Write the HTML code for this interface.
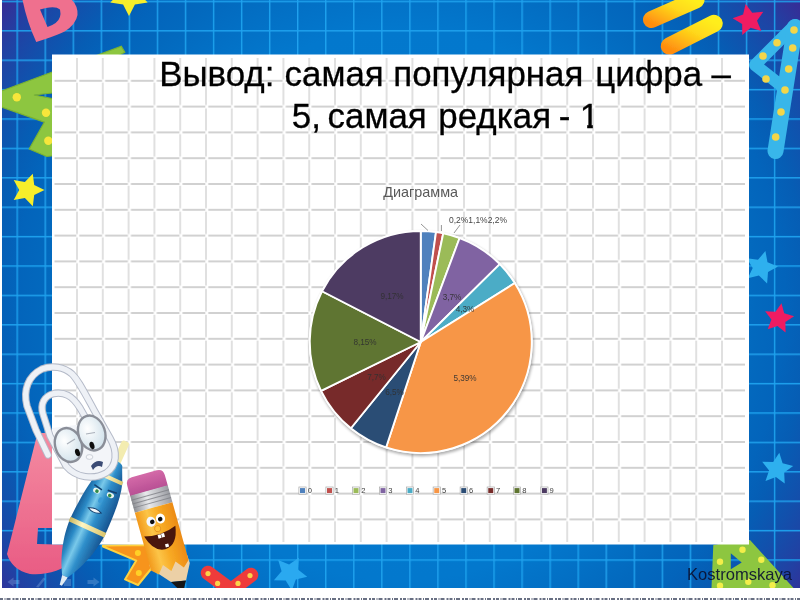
<!DOCTYPE html>
<html lang="ru"><head><meta charset="utf-8"><title>Вывод</title>
<style>
html,body{margin:0;padding:0;background:#fff;}
body{width:800px;height:600px;overflow:hidden;font-family:"Liberation Sans",sans-serif;}
svg{display:block;}
text{font-family:"Liberation Sans",sans-serif;}
</style></head><body>
<svg width="800" height="600" viewBox="0 0 800 600">
<defs>
<radialGradient id="bg" cx="400" cy="305" r="500" gradientUnits="userSpaceOnUse">
<stop offset="0" stop-color="#037cd1"/><stop offset="0.55" stop-color="#0378cd"/><stop offset="0.71" stop-color="#0369be"/><stop offset="0.77" stop-color="#0364bb"/><stop offset="0.82" stop-color="#065db4"/><stop offset="0.88" stop-color="#1250ac"/><stop offset="0.94" stop-color="#2141a3"/><stop offset="1" stop-color="#362d96"/>
</radialGradient>
<linearGradient id="rgt" x1="0" y1="0" x2="1" y2="0"><stop offset="0" stop-color="#4a389c" stop-opacity="0"/><stop offset="1" stop-color="#4a389c" stop-opacity="0.45"/></linearGradient>
<pattern id="bgrid" x="16.5" y="0.7" width="28.05" height="29.4" patternUnits="userSpaceOnUse">
<path d="M0.6 0V29.4M0 0.6H28.05" stroke="#1fa2ee" stroke-width="1.6" fill="none"/>
</pattern>
<pattern id="sgrid" x="38.3" y="42.1" width="25.8" height="25.8" patternUnits="userSpaceOnUse">
<path d="M15.2 12.9H25.8M0 12.9H12.2" stroke="#c2c2c2" stroke-width="1.7" fill="none"/>
<path d="M12.9 14.6V25.8M12.9 0V11.4" stroke="#d6d6d6" stroke-width="1.5" fill="none"/>
</pattern>
<linearGradient id="bar" gradientUnits="userSpaceOnUse" x1="682" y1="-6" x2="664" y2="30"><stop offset="0" stop-color="#ffee1c"/><stop offset="0.4" stop-color="#ffd81a"/><stop offset="0.75" stop-color="#ffad14"/><stop offset="1" stop-color="#ff8c10"/></linearGradient><linearGradient id="bar2" gradientUnits="userSpaceOnUse" x1="702" y1="16" x2="682" y2="56"><stop offset="0" stop-color="#ffee1c"/><stop offset="0.4" stop-color="#ffd81a"/><stop offset="0.75" stop-color="#ffad14"/><stop offset="1" stop-color="#ff8c10"/></linearGradient>
<filter id="b1" x="-5%" y="-5%" width="110%" height="110%"><feGaussianBlur stdDeviation="0.7"/></filter>
<linearGradient id="pk" x1="0" y1="0" x2="0" y2="1"><stop offset="0" stop-color="#f48ba1"/><stop offset="1" stop-color="#e95c84"/></linearGradient>
<filter id="b3" x="-2%" y="-10%" width="104%" height="120%"><feGaussianBlur stdDeviation="0.45"/></filter>
<filter id="b2" x="-5%" y="-5%" width="110%" height="110%"><feGaussianBlur stdDeviation="0.5"/></filter>
<filter id="sh" x="-10%" y="-10%" width="120%" height="120%"><feGaussianBlur stdDeviation="1.4"/></filter>
</defs>
<rect width="800" height="600" fill="#fff"/>
<rect x="1.5" y="0" width="798.5" height="588" fill="url(#bg)"/>
<rect x="1.5" y="-2" width="798.5" height="590" fill="url(#bgrid)" filter="url(#b2)"/>

<g filter="url(#b2)">
<path d="M22.5 0 Q27 22 36.25 42 L46.25 38.75 Q60 34 65 31.25 Q76 24 77.5 15 Q78 6 72 0 Z M40 9.4 L47.5 26.9 Q53 25 55.6 23.1 Q62 18 60 9.4 Q56 6 46 8 Z" fill="#ef6f8e" fill-rule="evenodd"/>
<polygon points="129.0,16.0 123.1,4.4 110.3,2.4 119.5,-6.8 117.4,-19.6 129.0,-13.7 140.6,-19.6 138.5,-6.8 147.7,2.4 134.9,4.4" fill="#f7ee2a"/>
<path d="M1.5 91 L121.3 46.3 L124.8 52.2 L70 80 L52 93 L34 95 L52 98.5 L60 105 L60 155 L46.7 156.5 L29.2 149 L44.3 122.2 L1.5 107 Z" fill="#8dc63f" stroke="#79b233" stroke-width="1.2"/>
<circle cx="16.8" cy="97.2" r="4.2" fill="#f7e63a"/>
<circle cx="46" cy="112.8" r="4.2" fill="#f7e63a"/>
<circle cx="48.3" cy="140.8" r="4.2" fill="#f7e63a"/>
<polygon points="32.8,173.8 34.2,185.1 44.5,190.0 34.2,194.9 32.8,206.2 24.9,197.9 13.7,200.0 19.2,190.0 13.7,180.0 24.9,182.1" fill="#f7ee2a"/>
<path d="M651.5 19.5 L696 0" stroke="url(#bar)" stroke-width="17" stroke-linecap="round" fill="none"/>
<path d="M669.5 46 L714 23.5" stroke="url(#bar2)" stroke-width="17.5" stroke-linecap="round" fill="none"/>
<polygon points="745.6,3.9 752.3,12.7 763.3,11.8 757.0,20.8 761.3,31.0 750.7,27.8 742.3,35.1 742.1,24.0 732.6,18.3 743.1,14.6" fill="#ef1a62"/>
<path d="M795 25 L755 65 L783 87" stroke="#38b6ea" stroke-width="12" stroke-linejoin="round" stroke-linecap="round" fill="none"/>
<path d="M795 27 L775.5 151" stroke="#38b6ea" stroke-width="16" stroke-linecap="round" fill="none"/>
<circle cx="794" cy="30" r="3.8" fill="#f3d64a"/>
<circle cx="777" cy="42.7" r="3.8" fill="#f3d64a"/>
<circle cx="763" cy="56" r="3.8" fill="#f3d64a"/>
<circle cx="766" cy="79" r="3.8" fill="#f3d64a"/>
<circle cx="792.7" cy="48" r="3.8" fill="#f3d64a"/>
<circle cx="788.7" cy="69" r="3.8" fill="#f3d64a"/>
<circle cx="785" cy="90" r="3.8" fill="#f3d64a"/>
<circle cx="781" cy="112" r="3.8" fill="#f3d64a"/>
<circle cx="775.7" cy="137" r="3.8" fill="#f3d64a"/>
<polygon points="765.4,251.1 767.5,262.3 778.0,266.6 768.0,272.0 767.1,283.4 758.9,275.5 747.8,278.2 752.7,267.9 746.7,258.2 758.0,259.8" fill="#2fb0ee"/>
<polygon points="781.5,303.2 784.2,313.3 794.1,316.3 785.4,322.0 785.6,332.4 777.5,325.9 767.7,329.3 771.4,319.5 765.1,311.2 775.5,311.8" fill="#ef1a62"/>
<polygon points="779.3,452.7 782.6,463.2 793.2,466.1 784.2,472.5 784.7,483.6 775.9,476.9 765.5,480.9 769.1,470.4 762.2,461.8 773.2,461.9" fill="#2fb0ee"/>
<path d="M208 573 L231 590 L251 575" stroke="#ee3b3b" stroke-width="14.5" stroke-linecap="round" stroke-linejoin="round" fill="none"/>
<circle cx="208" cy="573.6" r="2.6" fill="#fbd24a"/>
<circle cx="217.6" cy="583.4" r="2.6" fill="#fbd24a"/>
<circle cx="238" cy="583.4" r="2.6" fill="#fbd24a"/>
<circle cx="250" cy="575.6" r="2.6" fill="#fbd24a"/>
<polygon points="298.8,557.8 297.9,569.5 307.2,576.7 295.8,579.4 291.8,590.5 285.7,580.4 273.9,580.2 281.6,571.2 278.2,559.9 289.1,564.4" fill="#2aa9f0"/>
<path d="M711.5 588 L713.3 545 L748 540 L750 540 L793.5 588 Z M730.8 553.3 L730.8 569.2 L741.7 562.5 Z" fill="#8dc63f" fill-rule="evenodd"/>
<circle cx="742.5" cy="549.7" r="3.2" fill="#f3ee4a"/>
<circle cx="720" cy="561.7" r="3.2" fill="#f3ee4a"/>
<circle cx="761.3" cy="559.7" r="3.2" fill="#f3ee4a"/>
<circle cx="720" cy="585.8" r="3.2" fill="#f3ee4a"/>
<circle cx="748.3" cy="581.7" r="3.2" fill="#f3ee4a"/>
<circle cx="772.5" cy="585.3" r="3.2" fill="#f3ee4a"/>
<path d="M37.5 433 L62 433 L62 528 L38 528 L37 544 L75 545 L75 560 Q55 576 30 574 Q12 570 7 554 Z" fill="url(#pk)"/>
<path d="M103 545.5 L150 545 L162 558 L151 569 L138 585 L125 579.4 L136.3 560.6 L103 546.5 Z" fill="#f7941d" stroke="#ffd23f" stroke-width="2" stroke-linejoin="round"/><circle cx="137.9" cy="553.1" r="3" fill="#ffd028"/><circle cx="138.8" cy="573.1" r="3" fill="#ffd028"/>
</g>
<g fill="#9fc4ee" opacity="0.28"><path d="M7.5 582 L13.5 577.5 V580 H19.5 V584 H13.5 V586.5 Z"/><path d="M99.5 582 L93.5 577.5 V580 H87.5 V584 H93.5 V586.5 Z"/><path d="M36 587 L43.5 577.5 L45.5 579 L38.5 587.5 Z"/><rect x="64" y="579" width="7" height="7"/></g>
<rect x="0" y="588" width="800" height="12" fill="#fff"/>
<rect x="0" y="0" width="2" height="600" fill="#fff"/>
<rect x="52" y="54.5" width="697" height="490" fill="#fff"/>
<g filter="url(#b1)"><rect x="54.5" y="58" width="690.5" height="484" fill="url(#sgrid)"/></g>
<rect x="50" y="52.5" width="701" height="3.5" fill="#fff" opacity="0.0"/>
<g filter="url(#b3)">
<text x="159.2" y="86.3" font-size="34.9" fill="#000" stroke="#000" stroke-width="0.3">Вывод:</text>
<text x="284.6" y="86.3" font-size="34.9" fill="#000" stroke="#000" stroke-width="0.3">самая</text>
<text x="393.3" y="86.3" font-size="34.9" fill="#000" stroke="#000" stroke-width="0.3">популярная</text>
<text x="595.2" y="86.3" font-size="34.9" fill="#000" stroke="#000" stroke-width="0.3">цифра</text>
<text x="711.5" y="86.3" font-size="34.9" fill="#000" stroke="#000" stroke-width="0.3">–</text>
<text x="291.8" y="128.3" font-size="34.9" fill="#000" stroke="#000" stroke-width="0.3">5,</text>
<text x="327.6" y="128.3" font-size="34.9" fill="#000" stroke="#000" stroke-width="0.3">самая</text>
<text x="438.3" y="128.3" font-size="34.9" fill="#000" stroke="#000" stroke-width="0.3">редкая</text>
<text x="558.8" y="128.3" font-size="34.9" fill="#000" stroke="#000" stroke-width="0.3">-</text>
<clipPath id="one"><path d="M575 95 H605 V124.6 H592.8 V131 H587.2 V124.6 H575 Z"/></clipPath>
<g clip-path="url(#one)"><text x="579.8" y="128.3" font-size="34.9" fill="#000" stroke="#000" stroke-width="0.3">1</text></g>
</g>
<circle cx="421.75" cy="344" r="112.2" fill="#000" opacity="0.32" filter="url(#sh)"/>
<circle cx="420.75" cy="342" r="112" fill="#fff"/>
<g filter="url(#b2)">
<path d="M420.75 342 L420.75 231.00 A111 111 0 0 1 436.01 232.05 Z" fill="#4F81BD" stroke="#fff" stroke-width="1.9" stroke-linejoin="round"/>
<path d="M420.75 342 L436.01 232.05 A111 111 0 0 1 443.26 233.31 Z" fill="#C0504D" stroke="#fff" stroke-width="1.9" stroke-linejoin="round"/>
<path d="M420.75 342 L443.26 233.31 A111 111 0 0 1 459.62 238.03 Z" fill="#9BBB59" stroke="#fff" stroke-width="1.9" stroke-linejoin="round"/>
<path d="M420.75 342 L459.62 238.03 A111 111 0 0 1 499.78 264.06 Z" fill="#8064A2" stroke="#fff" stroke-width="1.9" stroke-linejoin="round"/>
<path d="M420.75 342 L499.78 264.06 A111 111 0 0 1 514.78 283.01 Z" fill="#4BACC6" stroke="#fff" stroke-width="1.9" stroke-linejoin="round"/>
<path d="M420.75 342 L514.78 283.01 A111 111 0 0 1 386.08 447.45 Z" fill="#F79646" stroke="#fff" stroke-width="1.9" stroke-linejoin="round"/>
<path d="M420.75 342 L386.08 447.45 A111 111 0 0 1 350.90 428.26 Z" fill="#2C4D75" stroke="#fff" stroke-width="1.9" stroke-linejoin="round"/>
<path d="M420.75 342 L350.90 428.26 A111 111 0 0 1 321.07 390.83 Z" fill="#772C2A" stroke="#fff" stroke-width="1.9" stroke-linejoin="round"/>
<path d="M420.75 342 L321.07 390.83 A111 111 0 0 1 322.02 291.26 Z" fill="#5F7530" stroke="#fff" stroke-width="1.9" stroke-linejoin="round"/>
<path d="M420.75 342 L322.02 291.26 A111 111 0 0 1 420.75 231.00 Z" fill="#4D3B62" stroke="#fff" stroke-width="1.9" stroke-linejoin="round"/>
</g>
<path d="M421 224 L428 230.5 M441.4 225 L441.4 231 M460 225 L454 233" stroke="#7a7a7a" stroke-width="0.8" fill="none"/>
<text x="420.7" y="196.5" font-size="14.4" fill="#595959" text-anchor="middle">Диаграмма</text>
<g font-size="8.2" fill="#303030" text-anchor="middle" opacity="0.9">
<text x="478" y="222.5" textLength="58" lengthAdjust="spacingAndGlyphs">0,2%1,1%2,2%</text>
<text x="452" y="300">3,7%</text>
<text x="465" y="311.5">4,3%</text>
<text x="465" y="380.5">5,39%</text>
<text x="365" y="345">8,15%</text>
<text x="392" y="298.5">9,17%</text>
<text x="376.5" y="380">7,7%</text>
<text x="394.5" y="395">6,5%</text>
</g>
<g font-size="7.6" fill="#404040">
<rect x="298.9" y="487.0" width="7.2" height="7.2" fill="#fff" stroke="#a8a8a8" stroke-width="0.7"/>
<rect x="300.0" y="488.1" width="5" height="5" fill="#4F81BD"/>
<text x="307.7" y="493.4">0</text>
<rect x="325.9" y="487.0" width="7.2" height="7.2" fill="#fff" stroke="#a8a8a8" stroke-width="0.7"/>
<rect x="327.0" y="488.1" width="5" height="5" fill="#C0504D"/>
<text x="334.7" y="493.4">1</text>
<rect x="352.4" y="487.0" width="7.2" height="7.2" fill="#fff" stroke="#a8a8a8" stroke-width="0.7"/>
<rect x="353.5" y="488.1" width="5" height="5" fill="#9BBB59"/>
<text x="361.2" y="493.4">2</text>
<rect x="379.4" y="487.0" width="7.2" height="7.2" fill="#fff" stroke="#a8a8a8" stroke-width="0.7"/>
<rect x="380.5" y="488.1" width="5" height="5" fill="#8064A2"/>
<text x="388.2" y="493.4">3</text>
<rect x="406.4" y="487.0" width="7.2" height="7.2" fill="#fff" stroke="#a8a8a8" stroke-width="0.7"/>
<rect x="407.5" y="488.1" width="5" height="5" fill="#4BACC6"/>
<text x="415.2" y="493.4">4</text>
<rect x="433.15" y="487.0" width="7.2" height="7.2" fill="#fff" stroke="#a8a8a8" stroke-width="0.7"/>
<rect x="434.25" y="488.1" width="5" height="5" fill="#F79646"/>
<text x="441.95" y="493.4">5</text>
<rect x="460.15" y="487.0" width="7.2" height="7.2" fill="#fff" stroke="#a8a8a8" stroke-width="0.7"/>
<rect x="461.25" y="488.1" width="5" height="5" fill="#2C4D75"/>
<text x="468.95" y="493.4">6</text>
<rect x="487.15" y="487.0" width="7.2" height="7.2" fill="#fff" stroke="#a8a8a8" stroke-width="0.7"/>
<rect x="488.25" y="488.1" width="5" height="5" fill="#772C2A"/>
<text x="495.95" y="493.4">7</text>
<rect x="513.4" y="487.0" width="7.2" height="7.2" fill="#fff" stroke="#a8a8a8" stroke-width="0.7"/>
<rect x="514.5" y="488.1" width="5" height="5" fill="#5F7530"/>
<text x="522.2" y="493.4">8</text>
<rect x="540.8" y="487.0" width="7.2" height="7.2" fill="#fff" stroke="#a8a8a8" stroke-width="0.7"/>
<rect x="541.9" y="488.1" width="5" height="5" fill="#4D3B62"/>
<text x="549.6" y="493.4">9</text>
</g>
<defs>
<linearGradient id="pen" x1="0" y1="0" x2="1" y2="0"><stop offset="0" stop-color="#175a96"/><stop offset="0.22" stop-color="#2b8ac6"/><stop offset="0.4" stop-color="#79c9ea"/><stop offset="0.6" stop-color="#2f8fcb"/><stop offset="1" stop-color="#16528f"/></linearGradient>
<linearGradient id="gold" x1="0" y1="0" x2="1" y2="0"><stop offset="0" stop-color="#c9b45a"/><stop offset="0.35" stop-color="#fff6c2"/><stop offset="1" stop-color="#d9c46a"/></linearGradient>
<linearGradient id="pcl" x1="0" y1="0" x2="1" y2="0"><stop offset="0" stop-color="#f2991c"/><stop offset="0.3" stop-color="#fcc548"/><stop offset="0.6" stop-color="#f7a822"/><stop offset="1" stop-color="#ec8b17"/></linearGradient>
<linearGradient id="met" x1="0" y1="0" x2="1" y2="0"><stop offset="0" stop-color="#8d8f94"/><stop offset="0.4" stop-color="#e8e9ec"/><stop offset="1" stop-color="#9a9ca2"/></linearGradient>
<linearGradient id="ers" x1="0" y1="0" x2="0" y2="1"><stop offset="0" stop-color="#d46aa8"/><stop offset="1" stop-color="#b84f94"/></linearGradient>
<radialGradient id="lens" cx="0.4" cy="0.35" r="0.7"><stop offset="0" stop-color="#ffffff"/><stop offset="1" stop-color="#cfe0ea"/></radialGradient>
<clipPath id="clipb"><rect x="0" y="0" width="800" height="588"/></clipPath>
</defs>
<g clip-path="url(#clipb)" filter="url(#b2)">
<g transform="translate(124,446) rotate(24.4)">
<rect x="-4" y="-5" width="8" height="27" rx="2.5" fill="#f3ecb0"/>
<path d="M-7 21 C-7 15.5 7.5 15.5 7.5 21 L14 35 L-13 35 Z" fill="url(#pen)"/>
<path d="M-13 35 C-17 50 -19 72 -19 89 L19.5 89 C19.5 72 19 50 14 35 Z" fill="url(#pen)"/>
<path d="M-19 89 C-18 115 -8 135 -3 143 L3 143 C8 135 18 115 19.5 89 Z" fill="url(#pen)"/>
<path d="M-3 143 L-1.2 153 L1.2 153 L3 143 Z" fill="#e4edf4"/>
<rect x="-13.2" y="33" width="27.4" height="4" fill="url(#gold)"/>
<rect x="-19.3" y="86.5" width="39" height="5" fill="url(#gold)"/>
<ellipse cx="-6.5" cy="52" rx="3.6" ry="2.6" fill="#e8f3ee"/><ellipse cx="8" cy="50.5" rx="3.8" ry="2.6" fill="#e8f3ee"/>
<circle cx="-6" cy="52.3" r="1.8" fill="#2f8a4a"/><circle cx="7.5" cy="51" r="1.8" fill="#2f8a4a"/>
<path d="M-11 47.5 L-2 49 M3.5 47 L13 46" stroke="#123f6e" stroke-width="1.5" fill="none"/>
<ellipse cx="1" cy="59" rx="2.2" ry="3" fill="#3a9ad6"/>
<path d="M-7 71 Q0 67 7 70.5 Q0 75 -7 71 Z" fill="#f4f7fa" stroke="#123f6e" stroke-width="1"/>
</g>
<path d="M52 428 L100 422 L113 445 L114 465 L100 477 L78 478 L64 466 Z" fill="#f3f5f9"/>
<path d="M48 455 L36 430 L27 406 C23 390 28 376 42 369 C52 365 64 367 72 374 C78 380 82 388 94 410 L110 438 C118 452 117 466 106 473 C94 480 76 478 66 466 L50 436 L43 414 C40 404 44 396 54 393.5 C64 392 72 395 80 408 L96 436" stroke="#b4bac8" stroke-width="7.4" fill="none" stroke-linecap="round" stroke-linejoin="round"/>
<path d="M48 455 L36 430 L27 406 C23 390 28 376 42 369 C52 365 64 367 72 374 C78 380 82 388 94 410 L110 438 C118 452 117 466 106 473 C94 480 76 478 66 466 L50 436 L43 414 C40 404 44 396 54 393.5 C64 392 72 395 80 408 L96 436" stroke="#eef1f6" stroke-width="5.4" fill="none" stroke-linecap="round" stroke-linejoin="round"/>
<ellipse cx="68.5" cy="445" rx="13.3" ry="17.3" transform="rotate(-18 68.5 445)" fill="url(#lens)" stroke="#8a8e98" stroke-width="2.4"/>
<ellipse cx="91.7" cy="433" rx="13.3" ry="17.8" transform="rotate(-18 91.7 433)" fill="url(#lens)" stroke="#8a8e98" stroke-width="2.4"/>
<ellipse cx="77.5" cy="452.5" rx="2.4" ry="3.8" fill="#111" transform="rotate(-15 77.5 452.5)"/>
<ellipse cx="92" cy="445.5" rx="2.4" ry="3.8" fill="#111" transform="rotate(-15 92 445.5)"/>
<path d="M67 444 L75 439 M86 434 L95 432.5" stroke="#aab0ba" stroke-width="1.2" fill="none"/>
<ellipse cx="89.5" cy="457" rx="3.4" ry="2.4" fill="#f7f8fb" stroke="#c2c6cf" stroke-width="0.8"/>
<path d="M91 466 Q96 459 103 462 L102 467 Q97 464 93 470 Z" fill="#3a4c74"/>
<path d="M149.4 564.7 L186.9 554.2 L189.8 563 L186 580.5 L171 582 L150.4 568.5 Z" fill="#ecd0a6"/>
<path d="M171 582 L186 580.5 L183.5 590 L179.5 590 Z" fill="#151515"/>
<g transform="translate(145.3,477.6) rotate(-15.6)">
<path d="M-19.5 14 L-19.5 3 Q-19.5 -4 -13 -4 L13 -4 Q19.5 -4 19.5 3 L19.5 14 Z" fill="url(#ers)"/>
<rect x="-19.5" y="13.5" width="39" height="17.5" fill="url(#met)"/>
<path d="M-19.5 18 H19.5 M-19.5 22 H19.5 M-19.5 26 H19.5" stroke="#7e8086" stroke-width="1" fill="none" opacity="0.8"/>
<path d="M-19.5 31 L19.5 31 L19.5 91 L13 97 L6.5 89 L0 97 L-6.5 89 L-13 97 L-19.5 91 Z" fill="url(#pcl)"/>
<ellipse cx="-6.3" cy="44" rx="4.6" ry="5" fill="#f4f8ff"/><ellipse cx="3.6" cy="43.5" rx="4.6" ry="5" fill="#fff"/>
<circle cx="-5.2" cy="44.5" r="2.3" fill="#111"/><circle cx="3.2" cy="44" r="2.3" fill="#111"/>
<circle cx="-1.8" cy="52.5" r="3.1" fill="#ffc23a" stroke="#d9821a" stroke-width="0.6"/>
<path d="M-17 56.5 Q0 61 16 54.5 Q13 74 0 74.5 Q-12 74 -17 56.5 Z" fill="#4a1408"/>
<rect x="-3.6" y="58.6" width="3.1" height="3.8" fill="#fff"/><rect x="0" y="58.4" width="3.1" height="3.8" fill="#fff"/>
<rect x="1" y="69.6" width="3.4" height="3.2" fill="#fff"/>
</g>
</g>
<text x="687" y="579.5" font-size="16.5" fill="#0a1030" opacity="0.9" textLength="105" lengthAdjust="spacingAndGlyphs">Kostromskaya</text>
<path d="M0 599 H800" stroke="#2a3550" stroke-width="2" stroke-dasharray="3 1.5 1 1 4 2 2 1" opacity="0.7"/>
</svg></body></html>
